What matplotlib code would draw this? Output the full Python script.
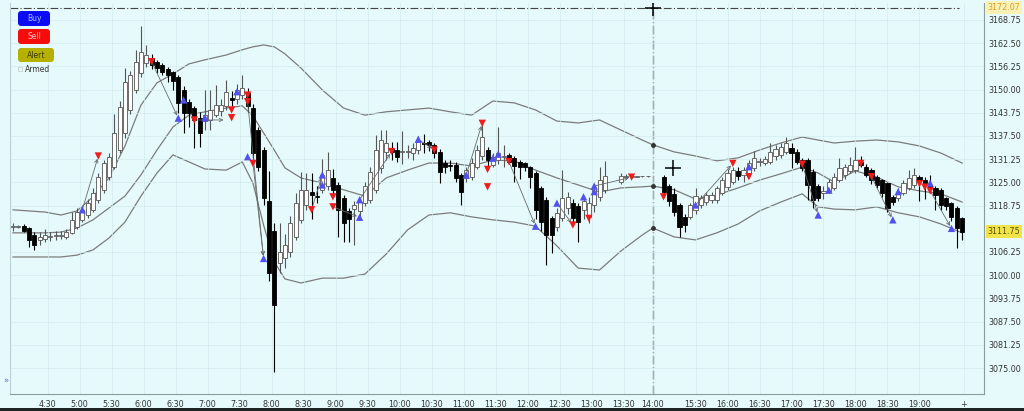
import numpy as np
import matplotlib
matplotlib.use("Agg")
import matplotlib.pyplot as plt
from matplotlib.patches import FancyBboxPatch, Rectangle
from matplotlib.transforms import blended_transform_factory

# ---------- OHLC, 5 minute bars (None = no bar) ----------
opens = [3113.0, 3113.0, 3113.3, 3112.7, 3110.8, 3109.5, 3109.7, 3110.3, 3110.5, 3110.5,
         3110.2, 3111.4, 3113.1, 3114.9, 3116.2, 3117.6, 3120.3, 3123.0, 3126.5, 3129.2,
         3133.7, 3138.2, 3144.4, 3149.9, 3154.4, 3157.2, 3158.5, 3157.5, 3156.6, 3155.5,
         3154.6, 3153.5, 3149.9, 3146.7, 3145.0, 3142.3, 3141.4, 3141.9, 3143.1, 3144.2,
         3145.6, 3147.8, 3147.5, 3148.5, 3149.0, 3145.0, 3139.1, 3133.7, 3120.0, 3112.0,
         3103.2, 3104.6, 3106.3, 3110.4, 3114.9, 3118.9, 3122.5, 3121.4, 3123.0, 3124.0,
         3126.1, 3124.3, 3120.7, 3117.2, 3117.8, 3117.2, 3119.4, 3120.3, 3123.0, 3128.8,
         3133.3, 3134.0, 3133.7, 3133.2, 3133.3, 3132.9, 3133.7, 3135.7, 3136.0, 3135.0,
         3133.3, 3130.2, 3129.7, 3129.7, 3127.0, 3126.2, 3126.5, 3129.2, 3132.0, 3133.7,
         3129.7, 3131.0, 3131.8, 3132.4, 3131.5, 3130.6, 3130.2, 3129.2, 3127.6, 3123.4,
         3120.3, 3115.3, 3113.1, 3115.3, 3118.0, 3119.4, 3118.5, 3117.5, 3115.8, 3118.9,
         3121.1, 3123.0, None, None, 3125.0, 3126.5, 3126.5, 3126.5, 3126.6, 3126.6,
         None, None, 3126.4, 3123.9, 3121.9, 3118.9, 3115.8, 3115.8, 3117.6, 3118.9,
         3119.8, 3120.3, 3120.3, 3122.1, 3123.8, 3125.2, 3128.0, 3127.0, 3127.4, 3128.8,
         3130.4, 3130.3, 3130.6, 3132.0, 3132.4, 3133.3, 3134.2, 3133.3, 3131.0, 3131.0,
         3127.9, 3123.9, 3122.2, 3122.6, 3123.4, 3125.6, 3127.0, 3128.0, 3128.3, 3130.6,
         3129.2, 3128.3, 3126.5, 3125.6, 3124.7, 3121.1, 3120.7, 3122.1, 3123.4, 3124.3,
         3126.5, 3125.7, 3124.3, 3123.4, 3123.0, 3120.7, 3119.4, 3118.0, 3115.3]
highs = [3114.0, 3113.5, 3113.8, 3113.0, 3111.5, 3111.5, 3112.5, 3111.5, 3112.0, 3112.0,
         3112.5, 3117.1, 3118.0, 3118.5, 3120.5, 3123.5, 3127.5, 3131.0, 3133.0, 3143.5,
         3147.0, 3155.7, 3155.0, 3160.7, 3167.1, 3162.0, 3159.5, 3158.0, 3157.2, 3156.0,
         3155.0, 3154.0, 3151.0, 3147.5, 3145.5, 3144.0, 3150.0, 3150.0, 3151.2, 3147.5,
         3152.6, 3149.5, 3151.5, 3153.9, 3150.5, 3146.0, 3140.0, 3134.5, 3128.0, 3114.0,
         3114.0, 3111.0, 3116.0, 3122.1, 3127.9, 3127.5, 3127.5, 3124.0, 3131.3, 3133.3,
         3128.5, 3125.0, 3121.5, 3118.0, 3120.0, 3121.0, 3125.0, 3129.0, 3137.8, 3139.0,
         3139.0, 3136.0, 3136.0, 3138.7, 3135.0, 3135.5, 3137.5, 3138.0, 3136.5, 3135.5,
         3134.0, 3131.0, 3131.0, 3130.5, 3127.5, 3129.0, 3131.5, 3135.0, 3141.5, 3134.5,
         3133.0, 3140.0, 3135.0, 3133.0, 3132.0, 3131.0, 3130.5, 3129.5, 3128.0, 3124.0,
         3121.0, 3116.0, 3118.0, 3128.3, 3122.5, 3120.5, 3119.5, 3121.0, 3121.0, 3124.5,
         3129.2, 3130.8, None, None, 3127.5, 3127.2, 3126.7, 3126.6, 3126.7, 3126.7,
         None, None, 3127.0, 3124.5, 3123.5, 3119.5, 3116.5, 3119.5, 3123.4, 3121.5,
         3122.5, 3122.5, 3124.0, 3126.5, 3128.5, 3129.0, 3129.0, 3129.0, 3131.0, 3133.5,
         3131.5, 3132.0, 3135.5, 3135.0, 3135.5, 3137.3, 3135.5, 3134.0, 3131.5, 3131.5,
         3128.5, 3124.5, 3124.0, 3126.0, 3127.5, 3131.5, 3130.0, 3131.9, 3134.6, 3132.0,
         3130.0, 3128.8, 3127.0, 3126.0, 3125.0, 3121.5, 3123.5, 3125.5, 3128.3, 3128.8,
         3127.0, 3126.5, 3127.0, 3124.0, 3123.5, 3121.0, 3119.8, 3118.5, 3115.8]
lows = [3112.0, 3112.6, 3111.5, 3107.7, 3106.7, 3108.0, 3109.0, 3109.3, 3109.5, 3109.8,
        3109.8, 3111.0, 3112.5, 3114.2, 3115.5, 3117.0, 3119.5, 3122.0, 3125.5, 3128.5,
        3133.0, 3137.0, 3143.5, 3149.0, 3153.5, 3156.0, 3155.5, 3154.5, 3154.0, 3152.0,
        3150.0, 3143.6, 3138.3, 3140.0, 3134.2, 3134.5, 3139.0, 3139.1, 3142.5, 3143.0,
        3144.5, 3145.5, 3146.0, 3147.5, 3144.0, 3131.0, 3128.0, 3119.0, 3098.5, 3073.9,
        3100.6, 3102.0, 3105.0, 3109.5, 3114.0, 3117.5, 3115.0, 3119.5, 3122.0, 3123.0,
        3121.0, 3110.4, 3109.0, 3109.0, 3108.0, 3116.0, 3118.5, 3119.5, 3122.0, 3127.5,
        3131.0, 3131.0, 3130.5, 3130.0, 3131.5, 3131.0, 3132.5, 3133.0, 3133.5, 3131.5,
        3124.7, 3127.5, 3128.0, 3125.0, 3118.9, 3125.0, 3125.5, 3128.5, 3131.0, 3128.5,
        3129.0, 3130.0, 3129.0, 3130.0, 3125.0, 3126.0, 3128.0, 3123.4, 3115.0, 3112.0,
        3102.7, 3105.9, 3112.0, 3114.5, 3116.5, 3113.5, 3109.0, 3115.0, 3114.0, 3117.0,
        3120.0, 3122.0, None, None, 3124.5, 3126.0, 3126.3, 3126.4, 3126.5, 3126.5,
        None, None, 3121.0, 3118.5, 3116.0, 3110.4, 3111.5, 3115.0, 3116.5, 3118.0,
        3119.0, 3119.5, 3119.5, 3121.5, 3123.0, 3124.5, 3125.5, 3125.0, 3126.5, 3128.0,
        3129.5, 3129.8, 3130.0, 3131.0, 3131.5, 3132.5, 3128.8, 3130.0, 3128.0, 3120.3,
        3118.0, 3120.0, 3120.5, 3122.0, 3123.0, 3125.0, 3126.0, 3127.5, 3127.5, 3129.0,
        3126.5, 3124.5, 3123.5, 3121.0, 3117.1, 3119.0, 3120.0, 3121.5, 3123.0, 3123.5,
        3120.0, 3120.5, 3122.0, 3117.5, 3117.5, 3117.5, 3114.5, 3107.2, 3109.5]
closes = [3113.2, 3113.0, 3111.9, 3109.5, 3108.1, 3110.3, 3110.8, 3110.5, 3110.5, 3110.8,
          3111.7, 3114.9, 3117.1, 3117.6, 3119.5, 3122.0, 3126.5, 3130.2, 3131.9, 3138.3,
          3145.4, 3152.1, 3153.9, 3157.5, 3160.2, 3159.3, 3156.6, 3155.7, 3154.8, 3153.9,
          3152.2, 3146.3, 3143.6, 3143.6, 3141.8, 3138.2, 3143.2, 3144.5, 3145.8, 3145.7,
          3149.3, 3147.3, 3149.8, 3150.4, 3145.5, 3132.9, 3129.2, 3120.7, 3100.5, 3092.0,
          3106.3, 3108.1, 3114.0, 3119.4, 3123.0, 3123.0, 3121.5, 3121.0, 3127.0, 3128.3,
          3123.0, 3117.6, 3114.0, 3115.0, 3118.8, 3119.8, 3123.9, 3127.9, 3133.7, 3136.4,
          3135.5, 3133.3, 3131.9, 3133.4, 3133.4, 3134.2, 3136.4, 3135.3, 3135.0, 3132.9,
          3127.9, 3129.2, 3129.5, 3126.1, 3122.5, 3128.3, 3130.2, 3133.7, 3137.3, 3131.0,
          3131.9, 3132.9, 3132.1, 3130.6, 3129.4, 3129.2, 3129.1, 3126.5, 3117.6, 3114.4,
          3110.8, 3110.8, 3116.7, 3120.7, 3121.1, 3115.3, 3114.4, 3120.0, 3119.4, 3123.4,
          3125.6, 3126.7, None, None, 3126.8, 3126.8, 3126.5, 3126.5, 3126.6, 3126.6,
          None, None, 3122.5, 3119.9, 3117.1, 3113.1, 3113.5, 3118.9, 3121.2, 3120.7,
          3121.6, 3121.6, 3123.4, 3125.6, 3127.4, 3128.3, 3126.8, 3128.3, 3130.2, 3131.5,
          3130.8, 3131.2, 3133.3, 3134.0, 3134.6, 3135.5, 3132.9, 3130.6, 3128.8, 3124.3,
          3120.3, 3120.7, 3122.6, 3125.2, 3126.5, 3128.8, 3129.2, 3129.7, 3131.0, 3129.7,
          3127.0, 3125.6, 3124.3, 3122.0, 3118.0, 3119.8, 3122.5, 3124.7, 3126.1, 3127.0,
          3125.5, 3124.9, 3123.4, 3121.6, 3118.9, 3118.5, 3115.8, 3112.6, 3111.75]

# ---------- Bollinger bands (read at these bar numbers) ----------
band_idx = [0, 6, 9, 12, 15, 18, 21, 24, 27, 30, 33, 36, 40, 43, 45, 47, 49, 51, 54, 58,
            62, 66, 70, 74, 78, 82, 86, 90, 94, 98, 102, 106, 110, 114, 118, 120, 124, 128,
            132, 136, 140, 144, 148, 151, 154, 158, 162, 166, 170, 174, 178]
band_upper = [3117.6, 3117.0, 3116.2, 3117.3, 3121.1, 3126.2, 3134.8, 3145.8, 3151.8, 3154.2,
              3156.9, 3158.0, 3159.3, 3160.7, 3161.5, 3162.0, 3161.5, 3159.6, 3155.8, 3149.9,
              3145.0, 3143.1, 3144.0, 3144.5, 3145.0, 3144.0, 3143.1, 3146.9, 3146.4, 3144.5,
              3141.5, 3141.0, 3141.8, 3139.1, 3136.4, 3135.1, 3133.2, 3132.1, 3130.8, 3131.6,
              3133.7, 3135.6, 3137.2, 3136.4, 3135.6, 3136.1, 3136.4, 3135.9, 3134.8, 3132.9,
              3130.2]
band_mid = [3111.4, 3111.4, 3111.6, 3112.7, 3114.9, 3118.1, 3121.3, 3127.0, 3133.7, 3139.9,
            3143.1, 3144.0, 3145.0, 3145.6, 3142.9, 3138.3, 3133.7, 3128.9, 3126.2, 3124.8,
            3123.0, 3121.3, 3126.2, 3128.3, 3130.2, 3130.2, 3129.4, 3131.0, 3130.8, 3128.3,
            3126.2, 3124.3, 3122.4, 3123.5, 3123.8, 3124.0, 3123.0, 3120.5, 3121.6, 3123.5,
            3125.6, 3127.3, 3129.1, 3127.5, 3125.1, 3128.1, 3126.4, 3123.8, 3122.7, 3121.9,
            3119.7]
band_lower = [3104.9, 3104.9, 3104.9, 3105.4, 3106.8, 3110.0, 3114.3, 3121.3, 3127.5, 3132.4,
              3130.5, 3128.6, 3128.3, 3130.5, 3124.8, 3113.5, 3103.6, 3099.0, 3097.9, 3099.2,
              3099.2, 3100.3, 3105.7, 3112.2, 3116.2, 3116.8, 3115.7, 3114.9, 3114.3, 3113.2,
              3107.9, 3101.9, 3101.4, 3106.5, 3110.8, 3112.7, 3110.3, 3109.5, 3111.4, 3113.8,
              3117.3, 3119.7, 3121.9, 3118.4, 3117.8, 3117.6, 3118.4, 3116.8, 3115.7, 3113.8,
              3111.4]

# ---------- Signals ----------
buy_idx = [13, 31, 32, 36, 42, 44, 47, 58, 58, 65, 65, 76, 85, 90, 91, 98, 102, 107, 109, 109,
           128, 138, 151, 153, 165, 166, 172, 176]
buy_px = [3117.6, 3142.3, 3147.2, 3142.4, 3149.4, 3131.9, 3104.5, 3124.3, 3127.0, 3120.3,
          3115.6, 3136.6, 3127.0, 3131.5, 3132.6, 3113.2, 3119.4, 3121.1, 3124.0, 3122.5,
          3118.9, 3129.2, 3116.2, 3122.9, 3114.9, 3122.5, 3124.8, 3112.6]
sell_idx = [16, 26, 34, 41, 41, 44, 44, 45, 56, 60, 60, 71, 79, 88, 89, 89, 93, 105, 108, 116,
            122, 135, 138, 148, 159, 161, 170, 171, 172]
sell_px = [3132.1, 3157.5, 3141.8, 3144.5, 3142.4, 3148.5, 3146.7, 3130.1, 3117.6, 3121.1,
           3118.4, 3133.3, 3133.7, 3140.9, 3123.8, 3128.5, 3130.6, 3113.5, 3115.3, 3126.4,
           3121.1, 3130.1, 3126.5, 3129.9, 3130.1, 3126.5, 3124.6, 3123.7, 3122.7]

# signal-to-signal arrows: (from bar, from price, to bar, to price)
arrows = [(13, 3117.6, 16, 3132.1), (26, 3157.5, 31, 3142.3), (34, 3141.8, 40, 3141.8),
          (44, 3146.7, 47, 3104.5), (45, 3130.1, 47, 3104.5), (56, 3117.6, 58, 3127.0),
          (60, 3118.4, 65, 3115.6), (65, 3120.3, 71, 3133.3), (76, 3136.6, 79, 3133.7),
          (85, 3127.0, 88, 3140.9), (93, 3130.6, 98, 3113.2), (102, 3119.4, 105, 3113.5),
          (109, 3124.0, 116, 3126.4), (128, 3118.9, 135, 3130.1), (148, 3129.9, 151, 3116.2),
          (161, 3126.5, 165, 3114.9), (172, 3122.7, 176, 3112.6)]

# ---------- Axes labels ----------
time_labels = ['4:30', '5:00', '5:30', '6:00', '6:30', '7:00', '7:30', '8:00', '8:30', '9:00',
               '9:30', '10:00', '10:30', '11:00', '11:30', '12:00', '12:30', '13:00', '13:30',
               '14:00', '15:30', '16:00', '16:30', '17:00', '17:30', '18:00', '18:30', '19:00', '+']
time_pos = [6.5, 12.5, 18.5, 24.5, 30.5, 36.5, 42.5, 48.5, 54.5, 60.5, 66.5, 72.5, 78.5, 84.5,
            90.5, 96.5, 102.5, 108.5, 114.5, 120, 128, 134, 140, 146, 152, 158, 164, 170, 178.3]
price_ticks = [3075.00, 3081.25, 3087.50, 3093.75, 3100.00, 3106.25, 3118.75, 3125.00,
               3131.25, 3137.50, 3143.75, 3150.00, 3156.25, 3162.50, 3168.75]
last_price = 3111.75
cursor_price = 3172.07
cursor_bar = 120

BG = '#e6fafb'
W, H = 1024, 411

fig = plt.figure(figsize=(W / 100, H / 100), dpi=100, facecolor=BG)
ax = fig.add_axes([10 / W, 17 / H, 974 / W, 391 / H], facecolor=BG)

o = np.array(opens, dtype=float)
h = np.array(highs, dtype=float)
l = np.array(lows, dtype=float)
c = np.array(closes, dtype=float)
x = np.arange(len(o))
ok = ~np.isnan(o)
up = (c >= o) & ok
dn = (c < o) & ok

# wicks
ax.vlines(x[up], l[up], h[up], color='#555555', lw=0.8, zorder=2)
ax.vlines(x[dn], l[dn], h[dn], color='#000000', lw=0.8, zorder=2)
# bodies
bottom = np.fmin(o, c)
height = np.maximum(np.abs(c - o), 0.2)
ax.bar(x[up], height[up], bottom=bottom[up], width=0.76, facecolor='white',
       edgecolor='#555555', lw=0.6, zorder=3)
ax.bar(x[dn], height[dn], bottom=bottom[dn], width=0.76, facecolor='black',
       edgecolor='black', lw=0.6, zorder=3)

# bands
for band in (band_upper, band_mid, band_lower):
    ax.plot(band_idx, band, color='#7c7c7c', lw=0.9, zorder=1)
    ax.plot(cursor_bar, band[band_idx.index(cursor_bar)], 'o', color='#333333', ms=2.5, zorder=4)

# arrows between signals
for x0, p0, x1, p1 in arrows:
    ax.annotate('', xy=(x1, p1), xytext=(x0, p0),
                arrowprops=dict(arrowstyle='->', color='#6a6a6a', lw=0.6,
                                shrinkA=0, shrinkB=2, mutation_scale=6), zorder=4)

ax.scatter(buy_idx, buy_px, marker='^', s=28, color='#5151ee', edgecolors='none', zorder=5)
ax.scatter(sell_idx, sell_px, marker='v', s=28, color='#ee1c1c', edgecolors='none', zorder=5)

# cursor lines
ax.axvline(cursor_bar, color='#2e2e2e', lw=0.9, ls=(0, (7, 2, 1, 2)), zorder=1)
ax.hlines(cursor_price, -0.5, 177.5, color='#444444', lw=0.8, ls=(0, (7, 2, 1, 2)), zorder=1)
ax.plot(cursor_bar, cursor_price, '+', color='black', ms=11, mew=1.1, zorder=6)
ax.plot(123.75, 3128.9, '+', color='black', ms=11, mew=1.1, zorder=6)

ax.set_xlim(-0.56, 182.1)
ax.set_ylim(3068.0, 3173.3)

ax.set_xticks(time_pos)
ax.set_xticklabels(time_labels)
ax.yaxis.tick_right()
ax.set_yticks(price_ticks)
ax.set_yticklabels([f'{p:.2f}' for p in price_ticks])
ax.tick_params(axis='x', length=0, pad=4, labelsize=5.8, colors='#333333')
ax.tick_params(axis='y', length=0, pad=3, labelsize=5.8, colors='#333333')
ax.grid(True, color='#d2eced', lw=0.5, zorder=0)

ax.spines['top'].set_visible(False)
ax.spines['left'].set_color('#b9d2d6')
ax.spines['bottom'].set_color('#8c9c9e')
ax.spines['right'].set_color('#8c9c9e')

# highlighted price labels on the scale
tr = blended_transform_factory(ax.transAxes, ax.transData)
ax.text(1.004, last_price, f'{last_price:.2f}', transform=tr, ha='left', va='center',
        fontsize=5.8, color='#5b5000',
        bbox=dict(boxstyle='square,pad=0.2', fc='#f1e34a', ec='none'))
ax.text(1.004, cursor_price, f'{cursor_price:.2f}', transform=tr, ha='left', va='center',
        fontsize=5.8, color='#d8a030',
        bbox=dict(boxstyle='square,pad=0.2', fc='#faf2b4', ec='none'))


# ---------- Buttons top left ----------
def px_box(x0, y0, x1, y1):
    return x0 / W, 1 - y1 / H, (x1 - x0) / W, (y1 - y0) / H


buttons = [('Buy', 18, 11, 50, 26, '#0b0bf5', '#a9c2ff'),
           ('Sell', 18, 29, 50, 44, '#f50d0d', '#ffc4c4'),
           ('Alert', 18, 48, 54, 62, '#b6b000', '#3b3b00')]
for label, x0, y0, x1, y1, fc, tc in buttons:
    bx, by, bw, bh = px_box(x0, y0, x1, y1)
    fig.add_artist(FancyBboxPatch((bx, by), bw, bh, boxstyle='round,pad=0,rounding_size=0.003',
                                  mutation_aspect=W / H, transform=fig.transFigure,
                                  fc=fc, ec='none'))
    fig.text(bx + bw / 2, by + bh / 2, label, ha='center', va='center', fontsize=5.5, color=tc)

bx, by, bw, bh = px_box(18, 67, 22, 71)
fig.add_artist(Rectangle((bx, by), bw, bh, transform=fig.transFigure, fc='none',
                         ec='#c0c8c8', lw=0.5))
fig.text(25 / W, 1 - 70 / H, 'Armed', ha='left', va='center', fontsize=5.5, color='#333333')
fig.text(3 / W, 1 - 381 / H, '»', ha='left', va='center', fontsize=6, color='#5a6ad0')

# dark strip at the bottom edge
fig.add_artist(Rectangle((0, 0), 1, 3 / H, transform=fig.transFigure, fc='#1e2424', ec='none'))

fig.savefig('out.png', dpi=100, facecolor=BG)
